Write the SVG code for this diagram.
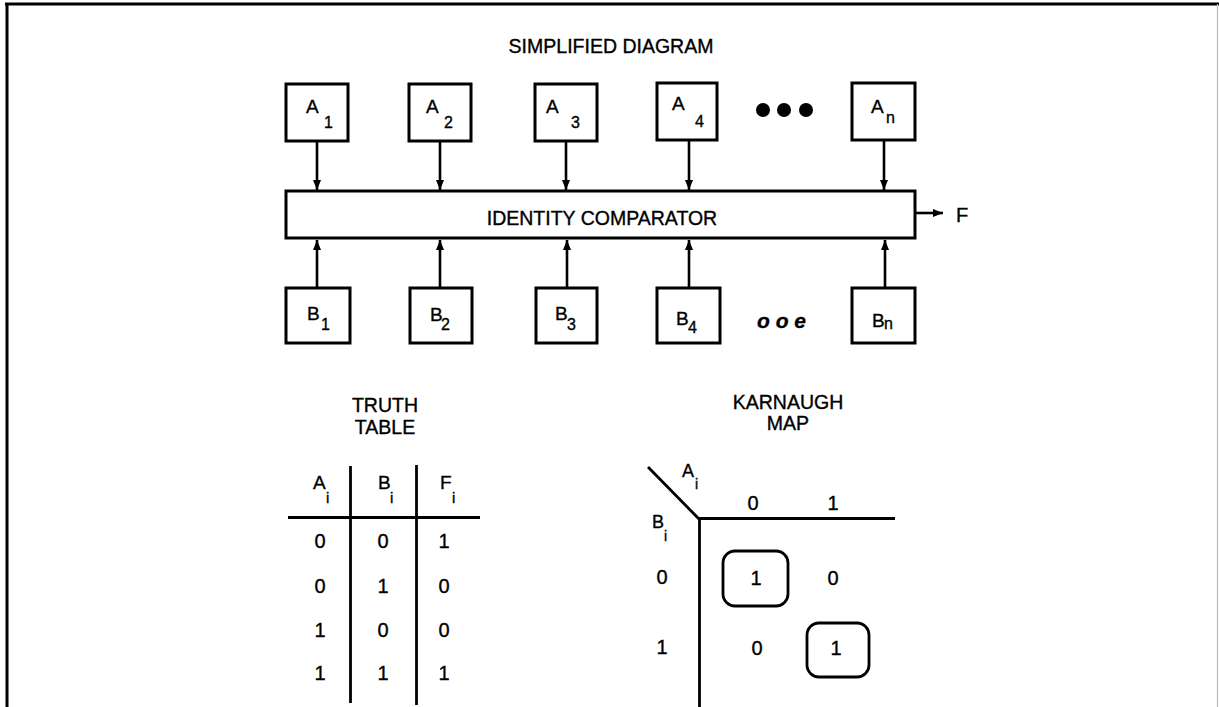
<svg xmlns="http://www.w3.org/2000/svg" width="1219" height="707" viewBox="0 0 1219 707">
<defs>
<marker id="ah" markerUnits="userSpaceOnUse" markerWidth="10" markerHeight="8" refX="10" refY="4" orient="auto">
<path d="M0,0 L10,4 L0,8 z" fill="#000"/>
</marker>
<style>
text{font-family:"Liberation Sans",Arial,sans-serif;fill:#000;stroke:#000;stroke-width:0.35}
.box{fill:#fff;stroke:#000;stroke-width:3}
.lbl{font-size:19px}
.sub{font-size:16px}
.t{font-size:20px;text-anchor:middle}
.hd{font-size:19.5px;text-anchor:middle}
.ln{stroke:#000;stroke-width:2.8;fill:none}
.con{stroke:#000;stroke-width:2.6;fill:none;marker-end:url(#ah)}
.kb{fill:none;stroke:#000;stroke-width:2.8}
</style>
</defs>
<rect x="0" y="0" width="1219" height="707" fill="#fff"/>
<g id="frame">
<line x1="5" y1="4" x2="1219" y2="4" stroke="#000" stroke-width="3"/>
<line x1="7" y1="3" x2="7" y2="707" stroke="#000" stroke-width="3"/>
<line x1="1217.5" y1="4" x2="1217.5" y2="707" stroke="#bbb" stroke-width="1.2"/>
</g>
<text id="title" x="611" y="53" class="hd">SIMPLIFIED DIAGRAM</text>

<g id="connectors">
<line class="con" x1="317" y1="141" x2="317" y2="190"/>
<line class="con" x1="440" y1="141" x2="440" y2="190"/>
<line class="con" x1="566" y1="141" x2="566" y2="190"/>
<line class="con" x1="689" y1="140" x2="689" y2="190"/>
<line class="con" x1="884" y1="140" x2="884" y2="190"/>
<line class="con" x1="317" y1="288" x2="317" y2="240"/>
<line class="con" x1="440" y1="288" x2="440" y2="240"/>
<line class="con" x1="567" y1="288" x2="567" y2="240"/>
<line class="con" x1="689" y1="288" x2="689" y2="240"/>
<line class="con" x1="885" y1="288" x2="885" y2="240"/>
<line class="con" x1="916" y1="213" x2="943" y2="213"/>
</g>

<g id="A1"><rect class="box" x="286" y="84" width="62" height="57"/><text class="lbl" x="306" y="113">A<tspan class="sub" x="324" y="128">1</tspan></text></g>
<g id="A2"><rect class="box" x="409" y="84" width="62" height="57"/><text class="lbl" x="426" y="113">A<tspan class="sub" x="444" y="128">2</tspan></text></g>
<g id="A3"><rect class="box" x="535" y="84" width="62" height="57"/><text class="lbl" x="546" y="113">A<tspan class="sub" x="571" y="128">3</tspan></text></g>
<g id="A4"><rect class="box" x="657" y="83" width="60" height="57"/><text class="lbl" x="672" y="110">A<tspan class="sub" x="695" y="127">4</tspan></text></g>
<g id="dots"><circle cx="763" cy="110" r="7"/><circle cx="784" cy="110" r="7"/><circle cx="806" cy="110" r="7"/></g>
<g id="An"><rect class="box" x="852" y="83" width="63" height="57"/><text class="lbl" x="871" y="113">A<tspan class="sub" x="886" y="123">n</tspan></text></g>

<g id="comparator"><rect class="box" x="286" y="191" width="629" height="47"/><text x="602" y="225" font-size="19.5" text-anchor="middle">IDENTITY COMPARATOR</text></g>
<text id="F" x="956" y="222" font-size="20">F</text>

<g id="B1"><rect class="box" x="286" y="288" width="64" height="55"/><text class="lbl" x="307" y="320">B<tspan class="sub" x="321" y="330">1</tspan></text></g>
<g id="B2"><rect class="box" x="410" y="288" width="62" height="55"/><text class="lbl" x="430" y="321">B<tspan class="sub" x="441" y="330">2</tspan></text></g>
<g id="B3"><rect class="box" x="536" y="288" width="61" height="55"/><text class="lbl" x="555" y="320">B<tspan class="sub" x="567" y="330">3</tspan></text></g>
<g id="B4"><rect class="box" x="657" y="288" width="63" height="55"/><text class="lbl" x="676" y="325">B<tspan class="sub" x="688" y="333">4</tspan></text></g>
<text id="oe" x="757" y="328" font-size="21" font-weight="bold" font-style="italic">o o e</text>
<g id="Bn"><rect class="box" x="852" y="288" width="63" height="55"/><text class="lbl" x="872" y="327">B<tspan class="sub" x="884" y="329">n</tspan></text></g>

<g id="truth-table">
<text class="hd" x="385" y="412">TRUTH</text>
<text class="hd" x="385" y="434">TABLE</text>
<line class="ln" x1="350.5" y1="466" x2="350.5" y2="703"/>
<line class="ln" x1="416.5" y1="465" x2="416.5" y2="705"/>
<line class="ln" x1="288" y1="517.5" x2="480" y2="517.5"/>
<text x="313" y="489" font-size="19">A<tspan x="326" y="503" font-size="15">i</tspan></text>
<text x="378" y="489" font-size="19">B<tspan x="390" y="503" font-size="15">i</tspan></text>
<text x="440" y="489" font-size="19">F<tspan x="452" y="503" font-size="15">i</tspan></text>
<text class="t" x="320" y="548">0</text><text class="t" x="383" y="548">0</text><text class="t" x="444" y="548">1</text>
<text class="t" x="320" y="593">0</text><text class="t" x="383" y="593">1</text><text class="t" x="444" y="593">0</text>
<text class="t" x="320" y="637">1</text><text class="t" x="383" y="637">0</text><text class="t" x="444" y="637">0</text>
<text class="t" x="320" y="680">1</text><text class="t" x="383" y="680">1</text><text class="t" x="444" y="680">1</text>
</g>

<g id="karnaugh-map">
<text class="hd" x="788" y="409">KARNAUGH</text>
<text class="hd" x="788" y="430">MAP</text>
<line class="ln" x1="648" y1="467" x2="699" y2="519"/>
<line class="ln" x1="698" y1="518.5" x2="895" y2="518.5"/>
<line class="ln" x1="699.5" y1="518" x2="699.5" y2="707"/>
<text x="682" y="477" font-size="18">A<tspan x="695" y="489" font-size="14">i</tspan></text>
<text x="652" y="528" font-size="18">B<tspan x="664" y="541" font-size="14">i</tspan></text>
<text class="t" x="753" y="510">0</text><text class="t" x="833" y="510">1</text>
<text class="t" x="662" y="584">0</text><text class="t" x="662" y="654">1</text>
<rect class="kb" x="723" y="551" width="65" height="55" rx="12"/>
<rect class="kb" x="807" y="623" width="62" height="54" rx="12"/>
<text class="t" x="756" y="585">1</text><text class="t" x="833" y="585">0</text>
<text class="t" x="757" y="655">0</text><text class="t" x="836" y="655">1</text>
</g>
</svg>
